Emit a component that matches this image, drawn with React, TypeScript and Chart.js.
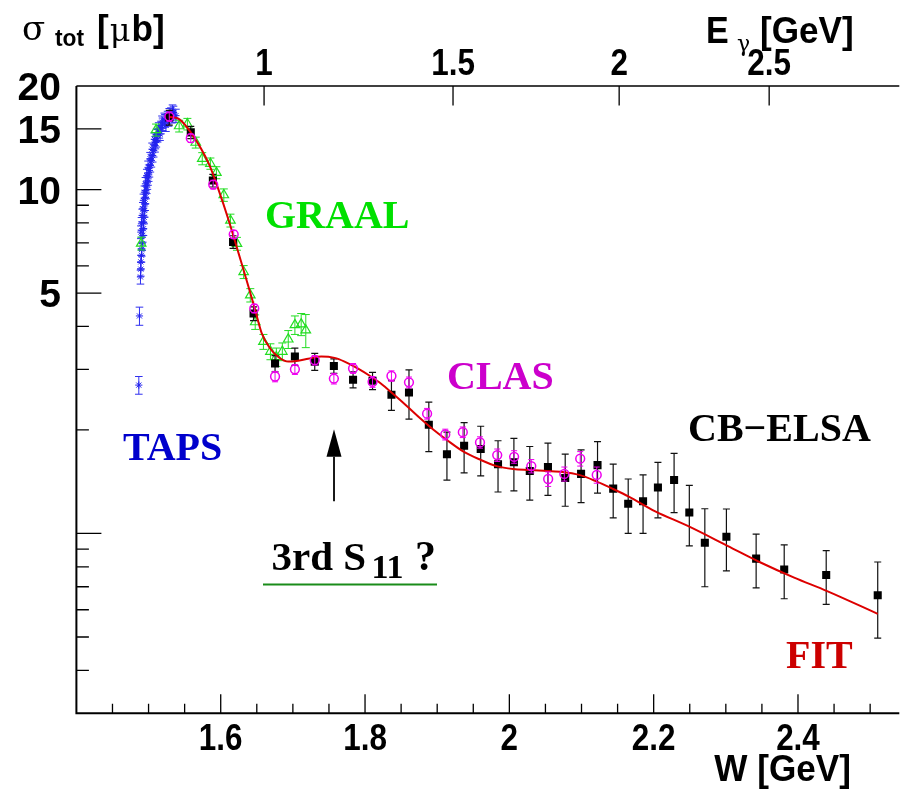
import React, { useEffect, useRef } from "react";
import { Chart, registerables } from "chart.js";

Chart.register(...registerables);

// ---------------- data (W in GeV, sigma in microbarn) ----------------
const tapsW = [
  1.4865, 1.4874, 1.4888, 1.4893, 1.4893, 1.4902, 1.4906, 1.4911, 1.492, 1.4929,
  1.4929, 1.4939, 1.4947, 1.4953, 1.4957, 1.4966, 1.4975, 1.4984, 1.4993, 1.5002,
  1.5012, 1.5025, 1.5039, 1.5057, 1.5071, 1.509, 1.5108, 1.5126, 1.5149, 1.5172,
  1.5194, 1.5227, 1.5263, 1.531, 1.5346, 1.5379,
  1.5094, 1.5049, 1.5021, 1.4993, 1.4975, 1.4957, 1.4943, 1.4929, 1.492, 1.4911,
  1.4902, 1.4893, 1.508, 1.5112, 1.514, 1.5186, 1.5218, 1.5277, 1.5324, 1.5332,
  1.5287, 1.5159, 1.5241,
];
const tapsSigma = [
  2.7, 4.29, 5.57, 5.87, 6.16, 6.44, 6.7, 6.96, 7.36, 7.69,
  8.04, 8.31, 8.69, 9.09, 9.5, 9.82, 10.16, 10.45, 10.74, 11.03,
  11.35, 11.74, 12.14, 12.55, 12.98, 13.42, 13.87, 14.34, 14.73, 15.16,
  15.49, 15.85, 16.2, 16.57, 16.75, 16.4,
  13.7, 13.1, 12.3, 11.6, 10.98, 10.39, 9.82, 9.3, 8.79, 8.41,
  7.95, 7.52, 14.0, 14.4, 15.0, 15.7, 16.0, 15.96, 16.3, 16.9,
  16.5, 14.5, 15.4,
];
const tapsErr = [
  0.16, 0.26, 0.26, 0.27, 0.28, 0.29, 0.3, 0.31, 0.33, 0.34,
  0.35, 0.36, 0.38, 0.4, 0.41, 0.42, 0.43, 0.44, 0.45, 0.47,
  0.48, 0.5, 0.52, 0.53, 0.55, 0.57, 0.58, 0.6, 0.62, 0.64,
  0.65, 0.67, 0.69, 0.71, 0.72, 0.72,
  0.57, 0.55, 0.52, 0.5, 0.47, 0.45, 0.42, 0.4, 0.38, 0.36,
  0.34, 0.32, 0.6, 0.61, 0.64, 0.66, 0.68, 0.68, 0.69, 0.72,
  0.7, 0.61, 0.65,
];

const graalW = [
  1.4898, 1.5104, 1.5424, 1.5538, 1.5654, 1.5744, 1.5857, 1.594, 1.6043, 1.6135,
  1.6225, 1.6318, 1.641, 1.6478, 1.6592, 1.6689, 1.6771, 1.6854, 1.6936, 1.7028,
  1.7115, 1.7179,
];
const graalSigma = [
  6.97, 14.9, 15.3, 15.5, 13.7, 12.3, 11.9, 11.2, 9.64, 8.13,
  6.96, 5.76, 4.93, 4.12, 3.61, 3.38, 3.26, 3.38, 3.67, 4.04,
  4.06, 3.9,
];
const graalErr = [
  0.3, 0.6, 0.6, 0.6, 0.5, 0.5, 0.45, 0.45, 0.4, 0.35,
  0.3, 0.25, 0.22, 0.2, 0.18, 0.18, 0.2, 0.2, 0.22, 0.25,
  0.3, 0.43,
];

const clasW = [
  1.5287, 1.5585, 1.5896, 1.618, 1.6465, 1.6753, 1.7028, 1.7303, 1.7568, 1.7834,
  1.8104, 1.8366, 1.8609, 1.886, 1.9112, 1.9355, 1.9593, 1.9832, 2.0066, 2.0304,
  2.0538, 2.0762, 2.0982, 2.1211,
];
const clasSigma = [
  16.3, 14.1, 10.34, 7.41, 4.51, 2.86, 3.0, 3.19, 2.82, 3.02,
  2.76, 2.87, 2.75, 2.23, 1.94, 1.97, 1.84, 1.69, 1.67, 1.57,
  1.44, 1.49, 1.65, 1.48,
];
const clasErr = [
  0.5, 0.4, 0.3, 0.2, 0.13, 0.1, 0.1, 0.1, 0.1, 0.1,
  0.1, 0.1, 0.1, 0.08, 0.07, 0.07, 0.07, 0.07, 0.07, 0.07,
  0.07, 0.07, 0.08, 0.08,
];

const elsaW = [
  1.5287, 1.5585, 1.5891, 1.6171, 1.6455, 1.6753, 1.7028, 1.7303, 1.7568, 1.7834,
  1.8104, 1.8366, 1.8609, 1.8884, 1.9135, 1.9373, 1.9603, 1.9843, 2.0063, 2.0283,
  2.0535, 2.0774, 2.0994, 2.1222, 2.1439, 2.1647, 2.1853, 2.2059, 2.2283, 2.2494,
  2.2709, 2.3008, 2.342, 2.3809, 2.4391, 2.5105,
];
const elsaSigma = [
  16.2, 14.66, 10.62, 7.04, 4.36, 3.12, 3.27, 3.16, 3.07, 2.8,
  2.78, 2.53, 2.57, 2.07, 1.7, 1.8, 1.76, 1.59, 1.61, 1.52,
  1.56, 1.45, 1.49, 1.58, 1.35, 1.22, 1.24, 1.36, 1.43, 1.15,
  0.94, 0.978, 0.845, 0.786, 0.757, 0.661,
];
const elsaErr = [
  0.8, 0.6, 0.45, 0.3, 0.2, 0.17, 0.19, 0.18, 0.15, 0.15,
  0.16, 0.25, 0.42, 0.34, 0.27, 0.3, 0.29, 0.27, 0.28, 0.27,
  0.27, 0.25, 0.26, 0.27, 0.24, 0.22, 0.24, 0.25, 0.28, 0.23,
  0.24, 0.2, 0.15, 0.14, 0.135, 0.165,
];

const fitW = [
  1.5287, 1.5424, 1.5585, 1.5836, 1.5974, 1.6111, 1.6249, 1.6386, 1.6478, 1.6569,
  1.6685, 1.6799, 1.6937, 1.7074, 1.7211, 1.7394, 1.7578, 1.7716, 1.7898, 1.8081,
  1.8219, 1.8403, 1.8586, 1.8768, 1.8953, 1.9135, 1.9365, 1.9593, 1.9823, 2.0052,
  2.0281, 2.051, 2.074, 2.0968, 2.1197, 2.1427, 2.1655, 2.2022, 2.248, 2.303,
  2.3489, 2.3947, 2.4404, 2.5105,
];
const fitSigma = [
  16.28, 16.03, 14.66, 11.87, 9.93, 8.13, 6.51, 5.21, 4.46, 3.82,
  3.45, 3.26, 3.16, 3.18, 3.22, 3.27, 3.24, 3.16, 3.02, 2.86,
  2.73, 2.53, 2.34, 2.16, 2.0, 1.87, 1.73, 1.64, 1.57, 1.54,
  1.53, 1.52, 1.51, 1.48, 1.42, 1.35, 1.28, 1.16, 1.05, 0.919,
  0.822, 0.744, 0.68, 0.584,
];

// ---------------- axes ----------------
const wMin = 1.4;
const wMax = 2.5404;
const sigmaMin = 0.3;
const sigmaMax = 20;
const yLongTicks = [1, 5, 10, 15];
const yShortTicks = [0.4, 0.5, 0.6, 0.7, 0.8, 0.9, 2, 3, 4, 6, 7, 8, 9];
const yTickValues = [5, 10, 15, 20];
const yTickLabels = ["5", "10", "15", "20"];
const xMajorTicks = [1.6, 1.8, 2.0, 2.2, 2.4];
const xTickLabels = ["1.6", "1.8", "2", "2.2", "2.4"];
const xMinorTicks = [
  1.45, 1.5, 1.55, 1.65, 1.7, 1.75, 1.85, 1.9, 1.95, 2.05, 2.1, 2.15, 2.25, 2.3,
  2.35, 2.45, 2.5,
];
const eGammaTicks = [1, 1.5, 2, 2.5];
const eGammaLabels = ["1", "1.5", "2", "2.5"];
const PROTON_MASS = 0.938;
const wFromEgamma = (e: number) =>
  Math.sqrt(PROTON_MASS * PROTON_MASS + 2 * PROTON_MASS * e);

const HELV = "'Liberation Sans', Arial, Helvetica, sans-serif";
const TIMES = "'Liberation Serif', 'Times New Roman', serif";
const GREEK = "'DejaVu Serif', 'Liberation Serif', serif";

const pts = (xs: number[], ys: number[]) => xs.map((x, i) => ({ x, y: ys[i] }));

function drawText(
  ctx: CanvasRenderingContext2D,
  s: string,
  x: number,
  y: number,
  font: string,
  color: string,
  align: "left" | "center" | "right" = "left",
  sx = 1
) {
  ctx.save();
  ctx.font = font;
  ctx.fillStyle = color;
  ctx.textBaseline = "alphabetic";
  ctx.textAlign = "left";
  const w = ctx.measureText(s).width * sx;
  const x0 = align === "left" ? x : align === "center" ? x - w / 2 : x - w;
  ctx.translate(x0, y);
  ctx.scale(sx, 1);
  ctx.fillText(s, 0, 0);
  ctx.restore();
  return w;
}

const rootStylePlugin = {
  id: "rootStyle",
  beforeDatasetDraw(chart: any, args: any) {
    const ds = chart.data.datasets[args.index];
    if (!ds.errors) return;
    const { ctx, chartArea } = chart;
    const xs = chart.scales.x;
    const ys = chart.scales.y;
    ctx.save();
    ctx.beginPath();
    ctx.rect(chartArea.left, chartArea.top, chartArea.right - chartArea.left, chartArea.bottom - chartArea.top);
    ctx.clip();
    ctx.strokeStyle = ds.errorColor;
    ctx.lineWidth = ds.errorWidth;
    ds.data.forEach((p: any, i: number) => {
      const e = ds.errors[i];
      const px = xs.getPixelForValue(p.x);
      const top = ys.getPixelForValue(p.y + e);
      const bot = ys.getPixelForValue(Math.max(p.y - e, 0.01));
      const c = ds.capHalf;
      ctx.beginPath();
      ctx.moveTo(px, top);
      ctx.lineTo(px, bot);
      ctx.moveTo(px - c, top);
      ctx.lineTo(px + c, top);
      ctx.moveTo(px - c, bot);
      ctx.lineTo(px + c, bot);
      ctx.stroke();
    });
    ctx.restore();
  },
  afterDraw(chart: any) {
    const { ctx, chartArea } = chart;
    const xs = chart.scales.x;
    const ys = chart.scales.y;
    const L = chartArea.left;
    const R = chartArea.right;
    const T = chartArea.top;
    const B = chartArea.bottom;
    ctx.save();
    ctx.strokeStyle = "#000";
    // frame
    ctx.lineWidth = 2;
    ctx.beginPath();
    ctx.moveTo(L, T);
    ctx.lineTo(L, B);
    ctx.lineTo(R, B);
    ctx.stroke();
    ctx.lineWidth = 1.5;
    ctx.beginPath();
    ctx.moveTo(L, T);
    ctx.lineTo(R, T);
    ctx.stroke();

    // y ticks
    ctx.lineWidth = 1.3;
    ctx.beginPath();
    yLongTicks.forEach((v) => {
      const py = ys.getPixelForValue(v);
      ctx.moveTo(L, py);
      ctx.lineTo(L + 25, py);
    });
    yShortTicks.forEach((v) => {
      const py = ys.getPixelForValue(v);
      ctx.moveTo(L, py);
      ctx.lineTo(L + 12.5, py);
    });
    // bottom x ticks
    xMajorTicks.forEach((v) => {
      const px = xs.getPixelForValue(v);
      ctx.moveTo(px, B);
      ctx.lineTo(px, B - 19);
    });
    xMinorTicks.forEach((v) => {
      const px = xs.getPixelForValue(v);
      ctx.moveTo(px, B);
      ctx.lineTo(px, B - 9.5);
    });
    // top E_gamma ticks
    eGammaTicks.forEach((e) => {
      const px = xs.getPixelForValue(wFromEgamma(e));
      ctx.moveTo(px, T);
      ctx.lineTo(px, T + 19.5);
    });
    ctx.stroke();

    // tick labels
    yTickValues.forEach((v, i) => {
      const py = ys.getPixelForValue(v);
      drawText(ctx, yTickLabels[i], 61, py + 14, `bold 39px ${HELV}`, "#000", "right", 1);
    });
    xMajorTicks.forEach((v, i) => {
      const px = xs.getPixelForValue(v);
      drawText(ctx, xTickLabels[i], px, 750, `bold 37px ${HELV}`, "#000", "center", 0.85);
    });
    eGammaTicks.forEach((e, i) => {
      const px = xs.getPixelForValue(wFromEgamma(e));
      drawText(ctx, eGammaLabels[i], px, 75, `bold 37px ${HELV}`, "#000", "center", 0.85);
    });

    // axis titles
    drawText(ctx, "W [GeV]", 851, 781, `bold 37px ${HELV}`, "#000", "right", 0.95);
    drawText(ctx, "E", 706, 43, `bold 37px ${HELV}`, "#000", "left", 0.92);
    drawText(ctx, "\u03b3", 737, 51, `22px ${GREEK}`, "#000", "left", 1);
    drawText(ctx, "[GeV]", 760, 43, `bold 37px ${HELV}`, "#000", "left", 0.95);
    drawText(ctx, "\u03c3", 22, 40, `34px ${GREEK}`, "#000", "left", 1);
    drawText(ctx, "tot", 55, 46, `bold 24px ${HELV}`, "#000", "left", 0.95);
    let x = 97;
    x += drawText(ctx, "[", x, 41, `bold 37px ${HELV}`, "#000", "left", 0.95);
    x += drawText(ctx, "\u03bc", x + 1, 41, `32px ${GREEK}`, "#000", "left", 1) + 2;
    drawText(ctx, "b]", x, 41, `bold 37px ${HELV}`, "#000", "left", 0.95);

    // data set names
    const tf = `bold 40px ${TIMES}`;
    drawText(ctx, "GRAAL", 265, 228, tf, "#00e000");
    drawText(ctx, "CLAS", 447, 389, tf, "#cc00cc");
    drawText(ctx, "TAPS", 123, 460, tf, "#0000cc");
    drawText(ctx, "CB\u2212ELSA", 688, 441, tf, "#000");
    drawText(ctx, "FIT", 786, 668, tf, "#cc0000");

    // 3rd S11 annotation
    drawText(ctx, "3rd S", 271.5, 570, `bold 41px ${TIMES}`, "#000");
    drawText(ctx, "11", 371.5, 578, `bold 34px ${TIMES}`, "#000");
    drawText(ctx, "?", 415, 570, `bold 42px ${TIMES}`, "#000");
    ctx.strokeStyle = "#1a8c1a";
    ctx.lineWidth = 2;
    ctx.beginPath();
    ctx.moveTo(263, 584.5);
    ctx.lineTo(437, 584.5);
    ctx.stroke();

    // arrow at the candidate resonance
    const ax = xs.getPixelForValue(1.757);
    const aTip = ys.getPixelForValue(2.01);
    const aBase = ys.getPixelForValue(1.67);
    const aEnd = ys.getPixelForValue(1.24);
    ctx.strokeStyle = "#000";
    ctx.lineWidth = 1.8;
    ctx.beginPath();
    ctx.moveTo(ax, aEnd);
    ctx.lineTo(ax, aBase);
    ctx.stroke();
    ctx.fillStyle = "#000";
    ctx.beginPath();
    ctx.moveTo(ax, aTip);
    ctx.lineTo(ax - 7.5, aBase);
    ctx.lineTo(ax + 7.5, aBase);
    ctx.closePath();
    ctx.fill();
    ctx.restore();
  },
};

export default function App() {
  const canvasRef = useRef<HTMLCanvasElement | null>(null);

  useEffect(() => {
    document.body.style.margin = "0";
    const canvas = canvasRef.current;
    if (!canvas) return;
    const chart = new Chart(canvas, {
      type: "scatter",
      data: {
        datasets: [
          {
            label: "TAPS",
            data: pts(tapsW, tapsSigma),
            pointStyle: "star",
            pointRadius: 3.6,
            borderColor: "#2222ee",
            backgroundColor: "#2222ee",
            borderWidth: 1,
            order: 5,
            errors: tapsErr,
            errorColor: "#3030f0",
            errorWidth: 1,
            capHalf: 3.8,
          } as any,
          {
            label: "GRAAL",
            data: pts(graalW, graalSigma),
            pointStyle: "triangle",
            pointRadius: 5.5,
            borderColor: "#22dd22",
            backgroundColor: "rgba(0,0,0,0)",
            borderWidth: 1.2,
            order: 4,
            errors: graalErr,
            errorColor: "#22dd22",
            errorWidth: 1,
            capHalf: 4,
          } as any,
          {
            label: "CB-ELSA",
            data: pts(elsaW, elsaSigma),
            pointStyle: "rect",
            pointRadius: 5.7,
            borderColor: "#000",
            backgroundColor: "#000",
            borderWidth: 0,
            order: 3,
            errors: elsaErr,
            errorColor: "#111",
            errorWidth: 1.2,
            capHalf: 3.5,
          } as any,
          {
            label: "FIT",
            data: pts(fitW, fitSigma),
            showLine: true,
            pointRadius: 0,
            borderColor: "#dd0000",
            borderWidth: 2,
            cubicInterpolationMode: "monotone",
            order: 2,
          } as any,
          {
            label: "CLAS",
            data: pts(clasW, clasSigma),
            pointStyle: "circle",
            pointRadius: 4.4,
            borderColor: "#ee00ee",
            backgroundColor: "rgba(0,0,0,0)",
            borderWidth: 1.5,
            order: 1,
            errors: clasErr,
            errorColor: "#ee00ee",
            errorWidth: 1,
            capHalf: 3,
          } as any,
        ],
      },
      options: {
        animation: false,
        responsive: false,
        maintainAspectRatio: false,
        layout: { padding: { left: 76.4, top: 86, right: 0, bottom: 76.7 } },
        plugins: { legend: { display: false }, tooltip: { enabled: false } },
        scales: {
          x: { type: "linear", min: wMin, max: wMax, display: false },
          y: { type: "logarithmic", min: sigmaMin, max: sigmaMax, display: false },
        },
      },
      plugins: [rootStylePlugin],
    });
    return () => chart.destroy();
  }, []);

  return (
    <div style={{ width: 906, height: 790, background: "#fff" }}>
      <canvas ref={canvasRef} width={906} height={790} style={{ display: "block" }} />
    </div>
  );
}
